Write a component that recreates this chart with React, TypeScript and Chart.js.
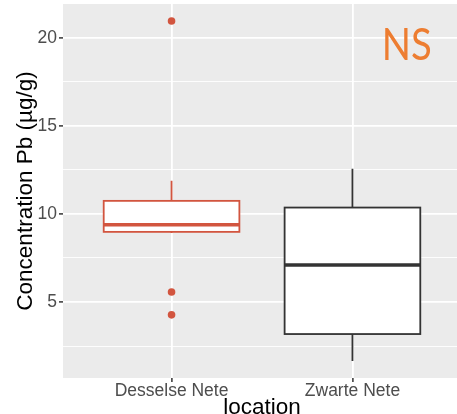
import React, { useEffect, useRef } from 'react';
import { Chart, registerables } from 'chart.js';

Chart.register(...registerables);

// ---- data ----
const categories = ['Desselse Nete', 'Zwarte Nete'];
const whiskerLow = [8.92, 1.65];
const q1 = [8.98, 3.18];
const median = [9.38, 7.1];
const q3 = [10.74, 10.36];
const whiskerHigh = [11.88, 12.56];
const outliersDesselse = [20.95, 5.57, 4.27];
const outliersZwarte: number[] = [];
const yMajorTicks = [5, 10, 15, 20];
const yMinorTicks = [2.5, 7.5, 12.5, 17.5];
const yAxisTitle = 'Concentration Pb (µg/g)';
const xAxisTitle = 'location';
const annotationText = 'NS';
const annotationX = [2.3];
const annotationY = [19.55];

// ---- styles ----
const boxColors = ['#D2553F', '#333333'];
const FONT = '"Liberation Sans", Arial, Helvetica, sans-serif';
const BOX_HALF = 0.375;

const allValues = [...whiskerLow, ...whiskerHigh, ...outliersDesselse, ...outliersZwarte];
const dataMin = Math.min(...allValues);
const dataMax = Math.max(...allValues);
const pad = (dataMax - dataMin) * 0.05;
const yMin = dataMin - pad;
const yMax = dataMax + pad;

const boxPlugin = {
  id: 'ggBoxes',
  beforeDraw(chart: any) {
    const { ctx, chartArea: a } = chart;
    ctx.save();
    ctx.fillStyle = '#EBEBEB';
    ctx.fillRect(a.left, a.top, a.right - a.left, a.bottom - a.top);
    ctx.restore();
  },
  beforeDatasetsDraw(chart: any) {
    const { ctx } = chart;
    const x = chart.scales.x;
    const y = chart.scales.y;
    ctx.save();
    categories.forEach((_c, i) => {
      const xc = x.getPixelForValue(i + 1);
      const xl = x.getPixelForValue(i + 1 - BOX_HALF);
      const xr = x.getPixelForValue(i + 1 + BOX_HALF);
      const yt = y.getPixelForValue(q3[i]);
      const yb = y.getPixelForValue(q1[i]);
      ctx.strokeStyle = boxColors[i];
      ctx.lineWidth = 1.8;
      ctx.beginPath();
      ctx.moveTo(xc, y.getPixelForValue(whiskerHigh[i]));
      ctx.lineTo(xc, yt);
      ctx.moveTo(xc, yb);
      ctx.lineTo(xc, y.getPixelForValue(whiskerLow[i]));
      ctx.stroke();
      ctx.fillStyle = '#FFFFFF';
      ctx.fillRect(xl, yt, xr - xl, yb - yt);
      ctx.strokeRect(xl, yt, xr - xl, yb - yt);
      const ym = y.getPixelForValue(median[i]);
      ctx.lineWidth = 3.5;
      ctx.beginPath();
      ctx.moveTo(xl, ym);
      ctx.lineTo(xr, ym);
      ctx.stroke();
    });
    ctx.restore();
  },
  afterDraw(chart: any) {
    const { ctx } = chart;
    const x = chart.scales.x;
    const y = chart.scales.y;
    ctx.save();
    ctx.fillStyle = '#ED7D31';
    ctx.font = '44px Lato, "Open Sans", sans-serif';
    ctx.textAlign = 'center';
    ctx.textBaseline = 'middle';
    ctx.translate(x.getPixelForValue(annotationX[0]), y.getPixelForValue(annotationY[0]));
    ctx.scale(0.87, 1);
    ctx.fillText(annotationText, 0, 0);
    ctx.restore();
  },
};

export default function App() {
  const ref = useRef<HTMLCanvasElement | null>(null);
  useEffect(() => {
    if (!ref.current) return;
    const chart = new Chart(ref.current, {
      type: 'scatter',
      data: {
        datasets: [
          {
            data: outliersDesselse.map((v) => ({ x: 1, y: v })),
            backgroundColor: boxColors[0],
            borderColor: boxColors[0],
            pointRadius: 3.8,
            borderWidth: 0,
          },
          {
            data: outliersZwarte.map((v) => ({ x: 2, y: v })),
            backgroundColor: boxColors[1],
            borderColor: boxColors[1],
            pointRadius: 3.8,
            borderWidth: 0,
          },
        ],
      },
      options: {
        animation: false,
        responsive: false,
        devicePixelRatio: 1,
        layout: { padding: { top: 4, right: 0, left: 0, bottom: 0 } },
        plugins: { legend: { display: false }, tooltip: { enabled: false } },
        scales: {
          x: {
            type: 'linear',
            min: 0.4,
            max: 2.6,
            afterBuildTicks: (s: any) => {
              s.ticks = categories.map((_c, i) => ({ value: i + 1 }));
            },
            afterFit: (s: any) => {
              s.height = 52;
              s.paddingLeft = 0;
              s.paddingRight = 0;
            },
            ticks: {
              autoSkip: false,
              maxRotation: 0,
              padding: -1,
              color: '#4D4D4D',
              font: { size: 17.5, family: FONT },
              callback: (v: any) => categories[Math.round(v) - 1] ?? '',
            },
            grid: {
              color: '#FFFFFF',
              lineWidth: 1.8,
              tickColor: '#333333',
              tickLength: 4,
              tickWidth: 1.5,
            },
            border: { display: false },
            title: {
              display: true,
              text: xAxisTitle,
              color: '#000000',
              font: { size: 22.5, family: FONT },
              padding: { top: 0, bottom: 8.5 },
            },
          },
          y: {
            type: 'linear',
            min: yMin,
            max: yMax,
            afterBuildTicks: (s: any) => {
              s.ticks = [...yMinorTicks, ...yMajorTicks].sort((a, b) => a - b).map((v) => ({ value: v }));
            },
            afterFit: (s: any) => {
              s.width = 63;
              s.paddingTop = 0;
              s.paddingBottom = 0;
            },
            ticks: {
              autoSkip: false,
              padding: 2,
              color: '#4D4D4D',
              font: { size: 17.5, family: FONT },
              callback: (v: any) => (yMajorTicks.includes(v) ? String(v) : ''),
            },
            grid: {
              color: '#FFFFFF',
              lineWidth: (c: any) => (yMajorTicks.includes(c.tick?.value) ? 1.8 : 0.9),
              tickColor: (c: any) => (yMajorTicks.includes(c.tick?.value) ? '#333333' : 'rgba(0,0,0,0)'),
              tickLength: 4,
              tickWidth: 1.5,
            },
            border: { display: false },
            title: {
              display: true,
              text: yAxisTitle,
              color: '#000000',
              font: { size: 22.5, family: FONT },
              padding: { top: 12.5, bottom: 0 },
            },
          },
        },
      },
      plugins: [boxPlugin],
    } as any);
    return () => chart.destroy();
  }, []);

  return (
    <div style={{ position: 'absolute', left: 0, top: 0, width: 457, height: 414, overflow: 'hidden', background: '#FFFFFF' }}>
      <canvas ref={ref} width={465} height={430} style={{ display: 'block', width: 465, height: 430 }} />
    </div>
  );
}
